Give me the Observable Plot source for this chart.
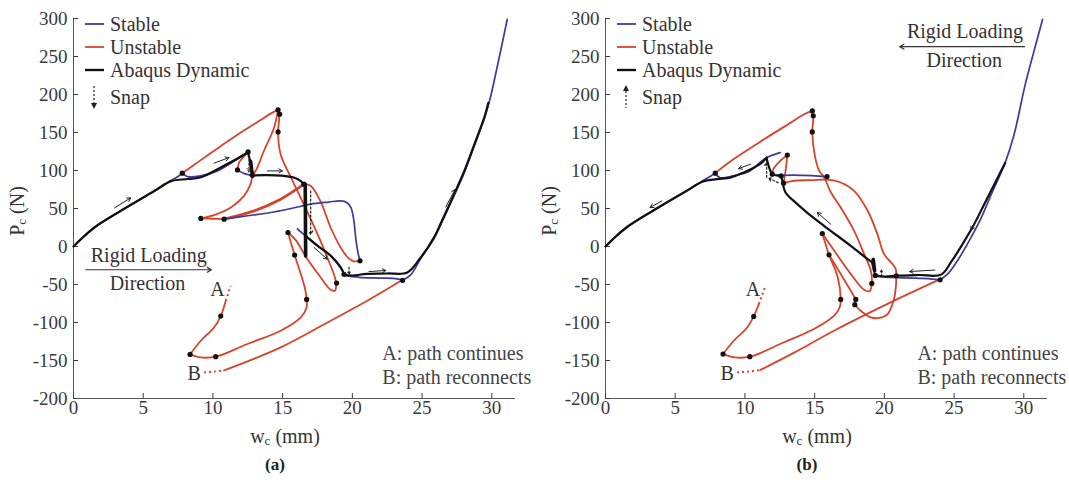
<!DOCTYPE html>
<html><head><meta charset="utf-8">
<script src="https://cdn.jsdelivr.net/npm/d3@7"></script>
<script src="https://cdn.jsdelivr.net/npm/@observablehq/plot@0.6"></script>
<style>
body{margin:0;background:#fff;}
#wrap{position:relative;width:1069px;height:483px;overflow:hidden;font-family:'Liberation Serif','DejaVu Serif',serif;color:#333;}
.panel{position:absolute;top:0;width:534px;height:483px;}
.panel > svg{position:absolute;left:0;top:0;}
.ylab{position:absolute;left:18px;top:211px;transform:translate(-50%,-50%) rotate(-90deg);font-size:20px;white-space:nowrap;}
.xlab{position:absolute;top:437px;transform:translate(-50%,-50%);font-size:20px;white-space:nowrap;}
.cap{position:absolute;top:465px;transform:translate(-50%,-50%);font-size:17px;font-weight:bold;color:#222;}
sub{font-size:65%;vertical-align:-0.2em;}
</style>
</head><body>
<div id="wrap">
  <div class="panel" id="pa" style="left:0"></div>
  <div class="panel" id="pb" style="left:532px"></div>
</div>
<script>
const xTicks = [0,5,10,15,20,25,30];
const yTicks = [-200,-150,-100,-50,0,50,100,150,200,250,300];
const legendLabels = ["Stable","Unstable","Abaqus Dynamic","Snap"];
const legendColors = ["#3b3b9e","#d8432b","#111111"];
const noteText = ["A: path continues","B: path reconnects"];
const noteY = [-141.4,-172.2];
const letterLabels = ["A","B"];
const rigidText = ["Rigid Loading","Direction"];

// ---------- panel (a) ----------
const aRed = [
 [[7.8,96.5],[9,112],[10.56,132],[12,150],[13.3,165],[14.2,175.5],[14.67,179.7]],
 [[14.67,179.7],[14.75,168],[14.67,150.8],[14.86,121],[15.6,90.7],[16.4,60],[17.5,16.3],[18.3,-18.8],[18.8,-45],[18.75,-58],[18.45,-57],[17.73,-40.7],[16.77,-16.6],[15.94,8.4],[15.38,18.4]],
 [[14.67,179.7],[14.38,156],[13.66,126],[13.19,104],[12.83,92],[12.7,82],[12.23,66.6],[11.28,51.3],[10.08,41.3],[9.13,37]],
 [[9.13,37],[10,36.5],[10.8,36]],
 [[11.76,100.8],[11.87,110],[12.1,116],[12.52,124]],
 [[15.38,18.4],[15.86,-11.3],[16.3,-36.3],[16.6,-55],[16.72,-69.7],[16.72,-80.2],[16.3,-93.3],[14.86,-110.8],[12.47,-128.3],[10.2,-145],[9.13,-146],[8.36,-142]],
 [[8.36,-142],[9.13,-124],[10.08,-106.5],[10.56,-91.5],[10.92,-71.4]],
 [[10.8,-163],[14.86,-132.8],[18.44,-97.7],[21.07,-71.4],[23.58,-44.2]],
 [[16.53,82],[17.0,79.8],[17.7,60],[18.44,25],[19.16,-1.3],[19.7,-15],[20.1,-19.5],[20.55,-18.8]]
];
const aRedThick = [[[10.8,36],[12.95,46.9],[14.86,62.3],[16.53,82]]];
const aRedDotted = [[[10.92,-71.4],[11.27,-51.7]],[[9.36,-165.6],[10.1,-164.6],[10.8,-163]]];
const aBlue = [
 [[0,0],[0.5,9],[1.5,25],[3.4,47],[5.8,73],[7,87],[7.5,92],[7.8,96.5]],
 [[7.8,96.5],[8.17,92],[9.13,93],[10.32,99.5],[11.5,112],[12.5,124]],
 [[11.76,100.8],[12.3,95.5],[12.83,93.6]],
 [[10.8,36],[12.5,40.5],[14.14,44.7],[15.6,50],[17,55.7],[18.3,58.5],[19.16,60],[19.6,58],[19.9,51],[20.1,35],[20.25,10],[20.4,-8],[20.55,-18.8]],
 [[16.06,23],[16.65,14],[17.5,1],[18.44,-12],[19.16,-27.6],[19.4,-36.3]],
 [[19.4,-38],[20.5,-40.5],[22,-41.5],[23.2,-42.5],[23.6,-44.5]],
 [[23.6,-44.5],[24.2,-37],[24.9,-16],[25.85,10],[26.4,31],[27.2,63],[28,96],[28.8,135],[29.5,170],[29.9,196],[30.5,246],[31.11,299]]
];
const aBlack = [
 [[0,0],[0.5,9],[1.5,25],[3.4,47],[5.8,73],[7,86],[8.2,88.8],[9.2,91.5],[10.56,104],[11.76,115.7],[12.5,124]],
 [[12.5,124],[12.7,110],[12.83,93.5]],
 [[12.83,93.5],[13.8,93.9],[14.9,93.3],[15.8,90.7],[16.3,86],[16.6,80]],
 [[16.65,14],[17.5,1],[18.44,-12],[19.16,-27.6],[19.4,-36.3]],
 [[19.4,-37],[20,-38.3],[21,-36],[22.5,-35.5],[23.94,-34.2],[24.9,-14.5],[25.85,11.8],[26.4,33],[27.2,65],[28,98],[28.8,137],[29.5,172],[29.75,189]]
];
const aBlackThick = [[[12.7,112],[12.83,93.5]],[[16.62,82],[16.65,-12.4]]];
const aDots = [[7.8,96.5],[14.67,179.7],[14.79,174],[14.67,150.8],[11.76,100.8],[12.52,124.5],[12.83,93.6],[16.53,82],[9.13,37],[10.8,36],[15.38,18.4],[15.86,-11.3],[20.55,-18.8],[18.87,-48.1],[16.72,-69.7],[10.2,-145],[8.36,-142],[10.56,-91.5],[19.4,-36.5],[23.6,-44.5]];
const aFlow = [[2.95,50.8,4.1,64],[10.08,109.6,11.15,117],[13.9,99.5,14.98,99.5],[17.25,-1.3,18.2,-16.6],[21.19,-33,22.4,-31.5],[26.7,52,27.36,75]];
const aSnap = [[12.59,120,12.59,98],[17.01,73,17.01,16],[19.76,-27,19.76,-36.5]];
const aNoteX = 22.15;
const aLetterPos = [[10.32,-57.3],[8.65,-167]];
const aRigidPos = [[5.4,-12.2],[5.3,-48.6]];
const aRigidArrow = [[0.88,-30.6,9.89,-30.6]];

// ---------- panel (b) ----------
const bRed = [
 [[7.87,96.5],[9.2,115],[11.37,141],[13.29,163],[14.25,174],[14.83,178.4]],
 [[14.83,178.4],[14.9,168],[14.83,150.8],[15.02,119],[15.33,99.5],[15.69,90.7],[16.17,71],[16.87,51.3],[17.83,20.6],[18.55,-10],[19.03,-32],[19.1,-48.6],[18.95,-58.5],[18.57,-57.3],[17.6,-36.3],[16.41,-5.7],[15.55,17.1]],
 [[11.96,95.2],[12.05,102.5],[12.5,112],[13.04,120.3]],
 [[13.04,120.3],[12.93,101.7],[12.77,83.3]],
 [[12.77,83.3],[13.5,86.5],[14.73,87.3],[15.93,88],[16.87,84.2],[17.83,73.2],[18.8,47],[19.5,16.3],[19.98,-10],[20.58,-23.1],[20.82,-30],[20.85,-38.5],[20.82,-53.9],[20.66,-71.4],[20.23,-88.9],[19.63,-94],[19.03,-93.3],[18.3,-84.5],[17.88,-76.6]],
 [[15.55,17.1],[16.03,-10.9],[16.66,-40.7],[16.87,-69.7],[16.8,-80],[16.4,-91],[14.95,-108.6],[12.8,-126],[10.35,-145],[9.3,-146],[8.43,-141.5]],
 [[16.03,-10.9],[16.87,-36.3],[17.59,-58.2],[17.95,-69.7]],
 [[8.43,-141.5],[9.2,-124],[10.16,-106.5],[10.63,-92],[11,-75.7]],
 [[11.1,-162.5],[13.5,-140],[16.39,-110.8],[21.19,-67],[23.87,-44.2]]
];
const bRedThick = [];
const bRedDotted = [[[11,-75.7],[11.47,-51.7]],[[9.44,-165.6],[10.3,-164.5],[11.1,-162.5]]];
const bBlue = [
 [[0,0],[0.5,9],[1.5,25],[3.4,47],[5.8,73],[7,87],[7.5,92],[7.87,96.5]],
 [[7.87,96.5],[8.2,90.7],[9.16,93],[10.36,99.5],[11.2,112.7],[11.8,119],[12.52,123.6]],
 [[12.3,93.5],[13.5,93.8],[14.8,93.3],[15.89,92]],
 [[19.1,-22],[19.25,-32],[19.35,-39]],
 [[19.35,-39],[20.5,-40.8],[22,-41.5],[23.3,-42.5],[24,-43.8]],
 [[24,-43.8],[24.6,-35],[25.3,-17],[26.1,8],[26.9,36],[27.7,70],[28.66,110],[29.3,147],[30.1,213],[30.7,255],[31.35,299]]
];
const bBlack = [
 [[0,0],[0.5,9],[1.5,25],[3.4,47],[5.8,73],[7,85.5],[8,88.6],[8.96,90.7],[9.91,97.3],[10.76,105],[11.2,110],[11.55,117]],
 [[11.55,117],[11.7,106],[11.96,95.2],[12.3,93.5],[12.6,92.5]],
 [[12.6,92.5],[12.68,86.4],[12.91,71],[13.5,60],[14.5,44],[15.67,27.2],[17.59,0.9],[18.8,-16.6],[19.15,-21]],
 [[19.35,-38],[20,-39.5],[21,-38.3],[22.5,-37.5],[24.07,-37],[24.8,-20],[25.6,3],[26.4,28],[27.2,57],[28,86],[28.66,110]]
];
const bBlackThick = [[[19.2,-17],[19.3,-32]]];
const bDots = [[7.87,96.5],[14.83,178.4],[14.9,172],[14.83,150.8],[13.04,120.3],[11.96,95.2],[12.6,92.8],[12.77,83.3],[15.89,92],[15.55,17.1],[16.03,-10.9],[16.87,-69.7],[17.95,-69.7],[17.88,-76.6],[19.1,-48.6],[20.85,-38.5],[19.35,-38],[10.63,-92],[8.43,-141.5],[10.35,-145],[24,-43.8]];
const bFlow = [[4.04,60,3.2,51.3],[10.4,108.3,9.55,102.5],[16.15,29.4,15.19,44.7],[23.62,-31,21.82,-32.9],[26.86,43.4,26.21,21.6]];
const bSnap = [[11.56,91,11.56,111],[12.38,84,11.7,90],[19.8,-39,19.8,-31]];
const bNoteX = 22.37;
const bLetterPos = [[10.57,-57.3],[8.73,-167]];
const bRigidPos = [[25.78,282.6],[25.73,244]];
const bRigidArrow = [[30.06,262.9,21.1,262.9]];

const FONT = "'Liberation Serif', 'DejaVu Serif', serif";
const RED = legendColors[1], BLUE = legendColors[0], BLACK = legendColors[2];

function lines(segs, o) {
  return segs.map(s => Plot.line(s, {curve: "catmull-rom", strokeLinecap: "round", strokeLinejoin: "round", ...o}));
}
function arrows(list, o) {
  return Plot.arrow(list, {x1: d => d[0], y1: d => d[1], x2: d => d[2], y2: d => d[3], ...o});
}

function panel(P) {
  return Plot.plot({
    width: 534, height: 450,
    marginLeft: 73, marginRight: 19, marginTop: 18, marginBottom: 52,
    x: {domain: [0, 31.7]},
    y: {domain: [-200, 300]},
    style: {fontFamily: FONT, fontSize: "19px", color: "#3a3a3a", background: "transparent", overflow: "visible"},
    marks: [
      Plot.ruleX([0], {stroke: "#555", strokeWidth: 1}),
      Plot.ruleY([-200], {stroke: "#555", strokeWidth: 1}),
      Plot.axisX(xTicks, {tickSize: -5, tickPadding: 7, label: null, tickFormat: d => String(d), fontFamily: FONT}),
      Plot.axisY(yTicks, {tickSize: -5, tickPadding: 11, label: null, tickFormat: d => String(d), fontFamily: FONT}),
      ...lines(P.red, {stroke: RED, strokeWidth: 1.8}),
      ...lines(P.redThick, {stroke: RED, strokeWidth: 2.8}),
      ...lines(P.redDotted, {stroke: RED, strokeWidth: 2, strokeDasharray: "2,3", strokeLinecap: "butt"}),
      ...lines(P.blue, {stroke: BLUE, strokeWidth: 1.7}),
      ...lines(P.black, {stroke: BLACK, strokeWidth: 2.2}),
      ...lines(P.blackThick, {stroke: BLACK, strokeWidth: 3.6, curve: "linear"}),
      Plot.dot(P.dots, {r: 2.6, fill: "#111", stroke: "none"}),
      arrows(P.flow, {stroke: "#222", strokeWidth: 1, headLength: 6}),
      arrows(P.snap, {stroke: "#222", strokeWidth: 1.2, headLength: 5, strokeDasharray: "2,2"}),
      arrows(P.rigidArrow, {stroke: "#333", strokeWidth: 1.2, headLength: 6}),
      Plot.text(P.rigidPos, {x: d => d[0], y: d => d[1], text: (d, i) => rigidText[i], fontSize: 20, fontFamily: FONT, fill: "#333", textAnchor: "middle"}),
      Plot.text(P.letterPos, {x: d => d[0], y: d => d[1], text: (d, i) => letterLabels[i], fontSize: 20, fontFamily: FONT, fill: "#333", textAnchor: "middle"}),
      Plot.text(noteY, {x: P.noteX, y: d => d, text: (d, i) => noteText[i], fontSize: 20, fontFamily: FONT, fill: "#444", textAnchor: "start"})
    ]
  });
}

function legend(el, up) {
  const svg = d3.select(el).append("svg").attr("width", 534).attr("height", 130)
    .style("position", "absolute").style("left", "0px").style("top", "0px")
    .attr("font-family", FONT).style("font-family", FONT).style("overflow", "visible");
  const ys = [24, 47, 70, 97];
  legendLabels.forEach((t, i) => {
    if (i < 3) {
      svg.append("line").attr("x1", 85).attr("x2", 104).attr("y1", ys[i]).attr("y2", ys[i])
        .attr("stroke", legendColors[i]).attr("stroke-width", i === 2 ? 2.4 : 1.8);
    }
    svg.append("text").attr("x", 110).attr("y", ys[i]).attr("dy", "0.33em")
      .attr("font-size", 20).attr("fill", "#333").text(t);
  });
  const sx = 94;
  if (!up) {
    svg.append("line").attr("x1", sx).attr("x2", sx).attr("y1", 86).attr("y2", 104)
      .attr("stroke", "#222").attr("stroke-width", 1.2).attr("stroke-dasharray", "2,2");
    svg.append("path").attr("d", `M${sx-3},${103} L${sx+3},${103} L${sx},${109} Z`).attr("fill", "#222");
  } else {
    svg.append("line").attr("x1", sx).attr("x2", sx).attr("y1", 91).attr("y2", 108)
      .attr("stroke", "#222").attr("stroke-width", 1.2).attr("stroke-dasharray", "2,2");
    svg.append("path").attr("d", `M${sx-3},${91} L${sx+3},${91} L${sx},${85} Z`).attr("fill", "#222");
  }
}

const A = {red: aRed, redThick: aRedThick, redDotted: aRedDotted, blue: aBlue, black: aBlack, blackThick: aBlackThick,
  dots: aDots, flow: aFlow, snap: aSnap, noteX: aNoteX, letterPos: aLetterPos, rigidPos: aRigidPos, rigidArrow: aRigidArrow};
const B = {red: bRed, redThick: bRedThick, redDotted: bRedDotted, blue: bBlue, black: bBlack, blackThick: bBlackThick,
  dots: bDots, flow: bFlow, snap: bSnap, noteX: bNoteX, letterPos: bLetterPos, rigidPos: bRigidPos, rigidArrow: bRigidArrow};

[["pa", A, false, "(a)"], ["pb", B, true, "(b)"]].forEach(([id, P, up, cap]) => {
  const el = document.getElementById(id);
  el.appendChild(panel(P));
  legend(el, up);
  const yl = document.createElement("div"); yl.className = "ylab"; yl.innerHTML = "P<sub>c</sub> (N)"; el.appendChild(yl);
  const xl = document.createElement("div"); xl.className = "xlab"; xl.style.left = "285px"; xl.innerHTML = "w<sub>c</sub> (mm)"; el.appendChild(xl);
  const c = document.createElement("div"); c.className = "cap"; c.style.left = "275px"; c.textContent = cap; el.appendChild(c);
});
</script>
</body></html>
